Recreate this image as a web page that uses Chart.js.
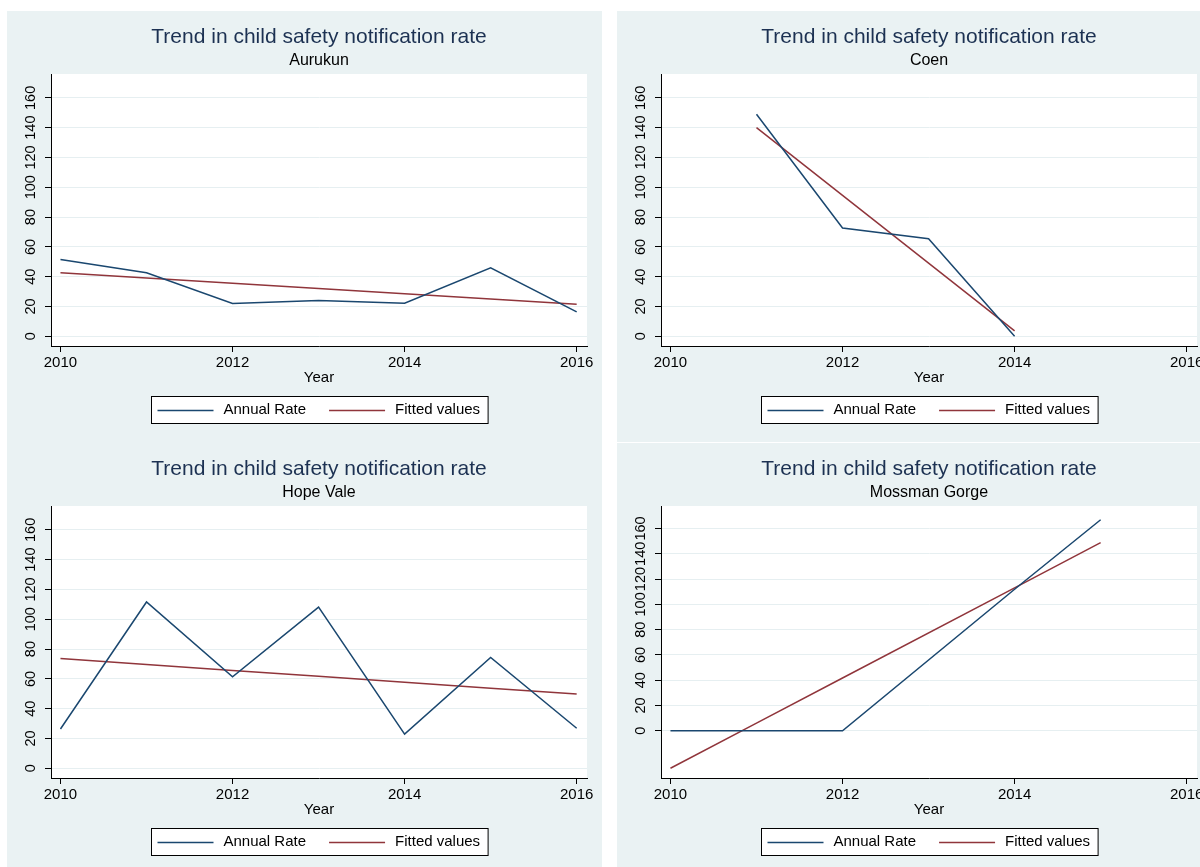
<!DOCTYPE html>
<html><head><meta charset="utf-8">
<script src="https://cdn.jsdelivr.net/npm/chart.js@4.4.0/dist/chart.umd.min.js"></script>
<style>
html,body{margin:0;padding:0;background:#fff;width:1200px;height:867px;overflow:hidden;position:relative}
.panel{position:absolute;overflow:hidden}
canvas{display:block}
</style></head><body>
<div class="panel" style="left:7px;top:11px;width:595px;height:432px"><canvas id="c1" width="595" height="432"></canvas></div>
<div class="panel" style="left:617px;top:11px;width:583px;height:431px"><canvas id="c2" width="595" height="432"></canvas></div>
<div class="panel" style="left:7px;top:443px;width:595px;height:424px"><canvas id="c3" width="595" height="432"></canvas></div>
<div class="panel" style="left:617px;top:443px;width:583px;height:424px"><canvas id="c4" width="595" height="432"></canvas></div>
<script>
// ---- data ----
const years = [2010, 2011, 2012, 2013, 2014, 2015, 2016];
const xTicks = [2010, 2012, 2014, 2016];
const yTicks = [0, 20, 40, 60, 80, 100, 120, 140, 160];
const seriesLabels = ['Annual Rate', 'Fitted values'];
const mainTitle = 'Trend in child safety notification rate';
const xTitle = 'Year';

const aurukunRate   = [51.5, 42.6, 22.0, 24.0, 22.2, 45.9, 16.4];
const aurukunFitted = [42.6, 39.1, 35.6, 32.1, 28.6, 25.0, 21.5];

const coenRate   = [null, 149.0, 72.7, 65.5, 0, null, null];
const coenFitted = [null, 140.0, 94.6, 49.1, 3.7, null, null];

const hopeValeRate   = [26.4, 111.6, 61.4, 108.2, 22.9, 74.4, 26.9];
const hopeValeFitted = [73.6, 69.7, 65.7, 61.7, 57.7, 53.7, 49.8];

const mossmanRate   = [0, 0, 0, null, 112.0, 166.9, null];
const mossmanFitted = [-29.6, 6.1, 41.8, null, 113.0, 148.8, null];

// ---- styles ----
const FONT = '"Liberation Sans", Arial, sans-serif';
const BG = '#EAF2F3';
const GRID = '#E6EFF1';
const NAVY = '#1A476F';
const MAROON = '#90353B';
const TITLE_COLOR = '#1C3152';

Chart.defaults.font.family = FONT;

const panelPlugin = {
  id: 'panel',
  beforeDraw(chart) {
    const {ctx, chartArea: a, width, height} = chart;
    ctx.save();
    ctx.fillStyle = BG; ctx.fillRect(0, 0, width, height);
    ctx.fillStyle = '#fff'; ctx.fillRect(a.left, a.top, a.right - a.left, a.bottom - a.top);
    ctx.restore();
  },
  afterDraw(chart) {
    const {ctx, chartArea: a} = chart;
    const xs = chart.scales.x;
    ctx.save();
    ctx.font = '15px ' + FONT;
    const items = chart.data.datasets.map(d => ({label: d.label, color: d.borderColor, w: ctx.measureText(d.label).width}));
    const padL = 6, sample = 56, gap = 10, between = 23, padR = 8, H = 27;
    const W = padL + items.reduce((s, it) => s + sample + gap + it.w, 0) + between * (items.length - 1) + padR;
    const cx = (a.left + a.right) / 2;
    const left = Math.round(cx - W / 2) + 0.5;
    const top = Math.round(xs.bottom + 9) + 0.5;
    ctx.fillStyle = '#fff'; ctx.fillRect(left, top, W, H);
    ctx.strokeStyle = '#000'; ctx.lineWidth = 1; ctx.strokeRect(left, top, W, H);
    let x = left + padL; const cy = top + H / 2;
    items.forEach(it => {
      ctx.strokeStyle = it.color; ctx.lineWidth = 1.5;
      ctx.beginPath(); ctx.moveTo(x, cy + 0.5); ctx.lineTo(x + sample, cy + 0.5); ctx.stroke();
      x += sample + gap;
      ctx.fillStyle = '#000'; ctx.textBaseline = 'middle'; ctx.textAlign = 'left';
      ctx.fillText(it.label, x, cy);
      x += it.w + between;
    });
    ctx.restore();
  }
};

function toPoints(vals) { return years.map((x, i) => ({x: x, y: vals[i]})); }

function makeChart(id, place, rate, fitted, yMin, yMax) {
  return new Chart(document.getElementById(id), {
    type: 'line',
    data: {
      datasets: [
        {label: seriesLabels[0], data: toPoints(rate), borderColor: NAVY, backgroundColor: NAVY, borderWidth: 1.5, pointRadius: 0, tension: 0, spanGaps: true},
        {label: seriesLabels[1], data: toPoints(fitted), borderColor: MAROON, backgroundColor: MAROON, borderWidth: 1.5, pointRadius: 0, tension: 0, spanGaps: true}
      ]
    },
    options: {
      responsive: false, animation: false, devicePixelRatio: 1,
      layout: {padding: {left: 0, right: 15, top: 0, bottom: 56}},
      plugins: {
        legend: {display: false},
        tooltip: {enabled: false},
        title: {display: true, text: mainTitle, color: TITLE_COLOR, font: {size: 21, weight: 'normal'}, padding: {top: 13.4, bottom: 1.8}, fullSize: false},
        subtitle: {display: true, text: place, color: '#000', font: {size: 16, weight: 'normal'}, padding: {top: 0, bottom: 3.4}, fullSize: false}
      },
      scales: {
        x: {
          type: 'linear', min: 2009.89, max: 2016.12,
          afterBuildTicks: s => { s.ticks = xTicks.map(v => ({value: v})); },
          afterFit: s => { s.height = 41; },
          ticks: {autoSkip: false, minRotation: 0, maxRotation: 0, padding: 2, color: '#000', font: {size: 15}, callback: v => String(v)},
          grid: {drawOnChartArea: false, drawTicks: true, tickLength: 6, tickColor: '#000', tickWidth: 1},
          border: {display: true, color: '#000', width: 1},
          title: {display: true, text: xTitle, color: '#000', font: {size: 15}, padding: {top: 0, bottom: 0}}
        },
        y: {
          type: 'linear', min: yMin, max: yMax,
          afterBuildTicks: s => { s.ticks = yTicks.map(v => ({value: v})); },
          afterFit: s => { s.width = 44; },
          ticks: {autoSkip: false, minRotation: 90, maxRotation: 90, crossAlign: 'center', padding: 2, color: '#000', font: {size: 14.5}, callback: v => String(v)},
          grid: {color: GRID, lineWidth: 1, drawTicks: true, tickLength: 6, tickColor: '#000', tickWidth: 1},
          border: {display: true, color: '#000', width: 1}
        }
      }
    },
    plugins: [panelPlugin]
  });
}

makeChart('c1', 'Aurukun', aurukunRate, aurukunFitted, -6.5, 176);
makeChart('c2', 'Coen', coenRate, coenFitted, -6.5, 176);
makeChart('c3', 'Hope Vale', hopeValeRate, hopeValeFitted, -6.5, 176);
makeChart('c4', 'Mossman Gorge', mossmanRate, mossmanFitted, -37.3, 177.8);
</script>
</body></html>
